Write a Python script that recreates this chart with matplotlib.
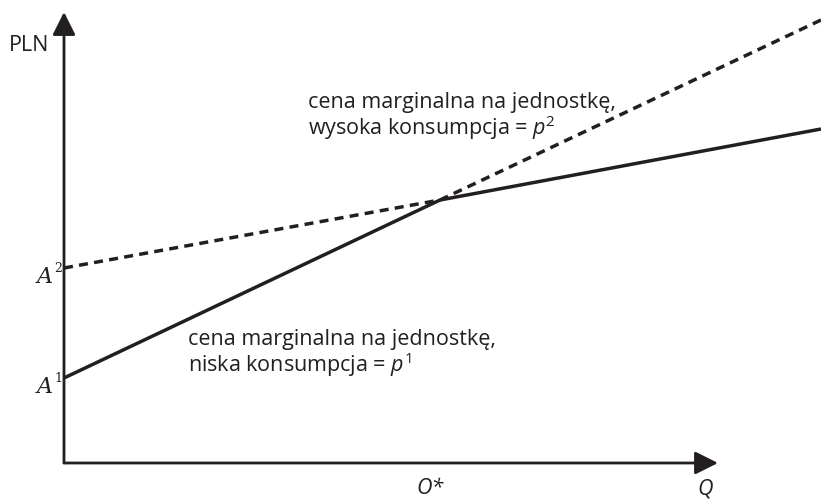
import matplotlib.pyplot as plt
import numpy as np

# diagram units: origin at the axes corner
q_points = [0, 376, 757]
low_use = [85, 263, 334]      # solid: A1, kink, right edge
high_use = [195, 263, 443]    # dashed: A2, kink, right edge
A1 = 85
A2 = 195
Q_star = 376

ink = '#231f20'
plt.rcParams['font.family'] = ['Open Sans', 'DejaVu Sans']
plt.rcParams['mathtext.fontset'] = 'custom'
plt.rcParams['mathtext.rm'] = 'Open Sans'
plt.rcParams['mathtext.it'] = 'Open Sans:italic'

fig = plt.figure(figsize=(8.21, 4.99), dpi=100)
ax = fig.add_axes([0, 0, 1, 1])
ax.set_xlim(-64, 757)
ax.set_ylim(-36, 463)
ax.axis('off')

# axes with arrow heads
arrow = dict(arrowstyle='-|>,head_length=1.0,head_width=0.5', mutation_scale=14,
             color=ink, lw=2, shrinkA=0, shrinkB=0)
ax.annotate('', xy=(0, 451), xytext=(0, 0), arrowprops=arrow)
ax.annotate('', xy=(654, 0), xytext=(0, 0), arrowprops=arrow)

ax.plot(q_points, low_use, color=ink, lw=2.5, solid_capstyle='butt')
ax.plot(q_points, high_use, color=ink, lw=2.5, linestyle=(0, (2.6, 1.8)))

fs = 15.5
ax.text(-55, 412, 'PLN', fontsize=fs, color=ink, va='baseline')

# intercept labels: italic A with a small superscript
for level, sup in [(A2, '2'), (A1, '1')]:
    ax.text(-11, level - 15, 'A', fontsize=16, color=ink, ha='right', va='baseline',
            family='DejaVu Serif', style='italic')
    ax.text(-10, level - 4, sup, fontsize=9, color=ink, ha='left', va='baseline',
            family='DejaVu Serif')

ax.text(Q_star - 10, -31, 'O*', fontsize=fs, color=ink, style='italic', ha='center', va='baseline')
ax.text(641, -31, 'Q', fontsize=fs, color=ink, style='italic', ha='center', va='baseline')

ax.text(244, 355, 'cena marginalna na jednostkę,', fontsize=fs, color=ink, va='baseline')
ax.text(244, 328, r'wysoka konsumpcja = $p^2$', fontsize=fs, color=ink, va='baseline')
ax.text(124, 118, 'cena marginalna na jednostkę,', fontsize=fs, color=ink, va='baseline')
ax.text(124, 91, r'niska konsumpcja = $p^1$', fontsize=fs, color=ink, va='baseline')

fig.savefig('out.png', dpi=100)
